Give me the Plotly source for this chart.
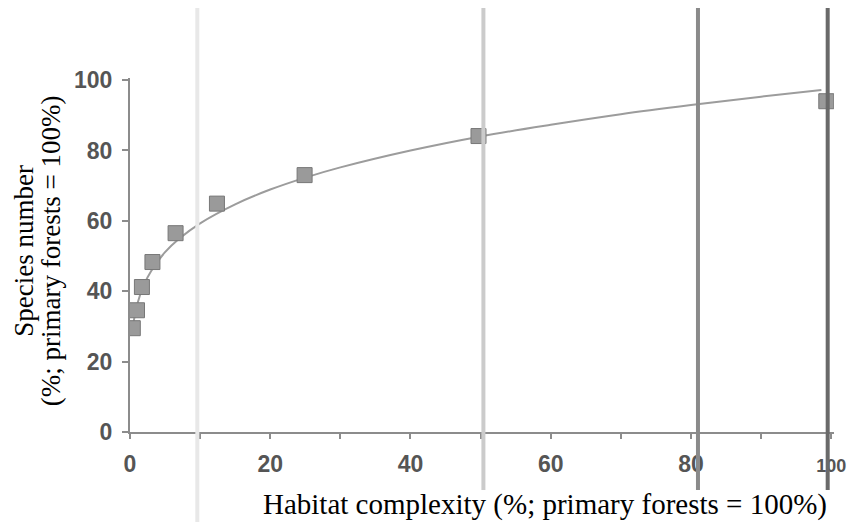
import plotly.graph_objects as go

# Observed data points (habitat complexity %, species number %)
habitat_x = [0.4, 1.0, 1.7, 3.2, 6.5, 12.4, 24.9, 49.7, 99.3]
species_y = [29.5, 34.6, 41.2, 48.3, 56.5, 64.9, 73.0, 84.1, 94.0]

# Fitted curve
curve_x = [0.5, 1, 2, 3, 5, 7, 10, 15, 20, 25, 30, 40, 50, 60, 70, 80, 90, 98.6]
curve_y = [31.0, 36.1, 41.9, 45.7, 51.1, 54.9, 59.3, 64.7, 68.9, 72.3, 75.2,
           80.0, 84.0, 87.3, 90.3, 92.9, 95.3, 97.2]

# Vertical reference lines (x positions) and their greys
ref_x = [9.6, 50.4, 81.0, 99.5]
ref_colors = ["#e8e8e8", "#cbcbcb", "#8a8a8a", "#6a6a6a"]
ref_bottom = [-0.30, -0.164, -0.164, -0.164]

x_ticks = [0, 20, 40, 60, 80, 100]
x_tick_labels = ["0", "20", "40", "60", "80", "100"]
y_ticks = [0, 20, 40, 60, 80, 100]

x_title = "Habitat complexity (%; primary forests = 100%)"
y_title_1 = "Species number"
y_title_2 = "(%; primary forests = 100%)"

# last x label is drawn slightly narrower so it stays inside the figure
x_ticktext = [t if i < len(x_tick_labels) - 1 else f"<span style='font-size:18px'>{t}</span>"
              for i, t in enumerate(x_tick_labels)]

fig = go.Figure()
fig.add_trace(go.Scatter(x=curve_x, y=curve_y, mode="lines",
                         line=dict(color="#9c9c9c", width=2, shape="spline"),
                         hoverinfo="skip", showlegend=False))
fig.add_trace(go.Scatter(x=habitat_x, y=species_y, mode="markers",
                         marker=dict(symbol="square", size=15, color="#9a9a9a",
                                     line=dict(color="#777777", width=1)),
                         showlegend=False))

for xv, col, yb in zip(ref_x, ref_colors, ref_bottom):
    fig.add_shape(type="line", xref="x", yref="paper", x0=xv, x1=xv,
                  y0=yb, y1=1.206, line=dict(color=col, width=4), layer="above")

tickfont = dict(family="Liberation Sans", size=23, color="#555555", weight="bold")

fig.update_layout(
    width=850, height=514,
    margin=dict(l=122, r=13, t=70, b=90),
    paper_bgcolor="white", plot_bgcolor="white",
    xaxis=dict(range=[0, 100.4], tickvals=x_ticks, ticktext=x_ticktext,
               ticks="outside", ticklen=5,
               tickwidth=2, tickcolor="#8c8c8c", showline=True, linecolor="#8c8c8c",
               linewidth=2, showgrid=False, zeroline=False, tickfont=tickfont,
               ticklabelstandoff=5,
               minor=dict(dtick=10, ticks="outside", ticklen=5, tickwidth=2,
                          tickcolor="#8c8c8c", showgrid=False)),
    yaxis=dict(range=[0, 100.6], tickvals=y_ticks, ticks="outside", ticklen=6,
               tickwidth=2, tickcolor="#8c8c8c", showline=True, linecolor="#8c8c8c",
               linewidth=2, showgrid=False, zeroline=False, tickfont=tickfont,
               ticklabelstandoff=5),
)

serif = dict(family="Liberation Serif", size=29, color="black")
fig.add_annotation(text=x_title, xref="paper", yref="paper", x=0.993, y=-0.206,
                   xanchor="right", yanchor="middle", showarrow=False, font=serif)
serif_y = dict(family="Liberation Serif", size=27, color="black")
fig.add_annotation(text=y_title_1, xref="paper", yref="paper", x=-0.151, y=0.511,
                   xanchor="center", yanchor="middle", textangle=-90,
                   showarrow=False, font=serif_y)
fig.add_annotation(text=y_title_2, xref="paper", yref="paper", x=-0.112, y=0.511,
                   xanchor="center", yanchor="middle", textangle=-90,
                   showarrow=False, font=serif_y)

fig.write_html("out.html", config={"displayModeBar": False})
